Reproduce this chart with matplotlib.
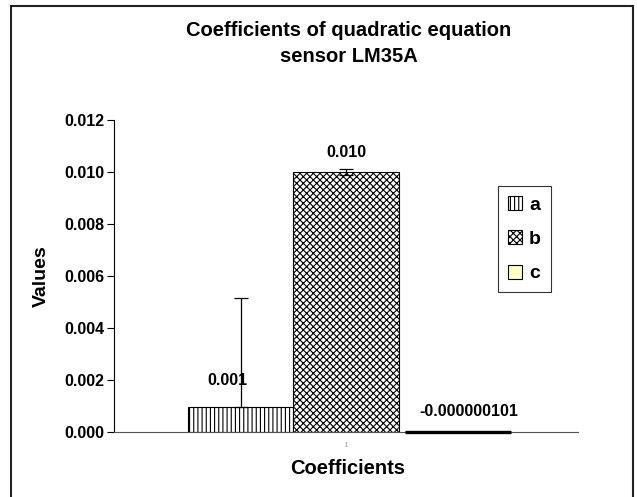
import matplotlib
matplotlib.use("Agg")
import matplotlib.pyplot as plt
from matplotlib.patches import Rectangle

series = ["a", "b", "c"]
values = [0.00095, 0.0100, -0.000000101]
err_plus = [0.0042, 0.00012, 0.0]
err_minus = [0.0, 0.00012, 0.0]
labels = ["0.001", "0.010", "-0.000000101"]
yticks = [0.000, 0.002, 0.004, 0.006, 0.008, 0.010, 0.012]
category = ["1"]
title_lines = ["Coefficients of quadratic equation", "sensor LM35A"]

plt.rcParams['font.family'] = ['Liberation Sans', 'DejaVu Sans']
plt.rcParams['hatch.linewidth'] = 0.8

fig = plt.figure(figsize=(6.37, 4.97), dpi=100)
ax = fig.add_axes([114/637, 1-432/497, (578-114)/637, (432-120)/497])

positions = [-1.0, 0.0, 1.06]
hatches = ['||||', 'xxxxx', '']
faces = ['white', 'white', '#FFFFC0']
for i, s in enumerate(series):
    cont = ax.bar(positions[i], values[i], width=1.0, color=faces[i], edgecolor='black',
                  hatch=hatches[i], linewidth=0.8 if i < 2 else 2.4, label=s,
                  zorder=2 if i < 2 else 3)
    if i == 2:
        for p in cont.patches:
            p.set_clip_on(False)
    if err_plus[i] > 0:
        ax.errorbar(positions[i], values[i], yerr=[[err_minus[i]], [err_plus[i]]],
                    fmt='none', ecolor='black', elinewidth=0.9, capsize=5, capthick=0.9, zorder=3)

label_dx = [-0.12, 0.0, 0.1]
label_dy = [0.00075, 0.00045, 0.00050]
for i in range(3):
    ax.text(positions[i] + label_dx[i], max(values[i], 0) + label_dy[i], labels[i],
            ha='center', va='bottom', fontsize=11.5, fontweight='bold')

ax.set_xlim(-2.2, 2.2)
ax.set_ylim(0, 0.012)
ax.set_yticks(yticks)
ax.set_yticklabels([f"{v:.3f}" for v in yticks], fontsize=11.5, fontweight='bold')
ax.set_xticks([0])
ax.set_xticklabels(category, fontsize=6, color='#AAAAAA')
ax.tick_params(axis='x', length=0, pad=7)
ax.tick_params(axis='y', length=5, width=0.8, direction='out', pad=2)
for sp in ['top', 'right']:
    ax.spines[sp].set_visible(False)
ax.spines['left'].set_linewidth(0.8)
ax.spines['bottom'].set_linewidth(0.8)
ax.spines['bottom'].set_color('#555555')

ax.set_ylabel("Values", fontsize=14, fontweight='bold', labelpad=10)
fig.text(348/637, 1-469/497, "Coefficients", ha='center', va='center', fontsize=14.5, fontweight='bold')

fig.text(349/637, 1-30/497, title_lines[0], ha='center', va='center', fontsize=14.5, fontweight='bold')
fig.text(349/637, 1-56/497, title_lines[1], ha='center', va='center', fontsize=14.5, fontweight='bold')

leg = ax.legend(loc='upper left', bbox_to_anchor=(498/637, 1-186/497), bbox_transform=fig.transFigure,
                prop={'size': 14, 'weight': 'bold'}, frameon=True, fancybox=False,
                edgecolor='black', handlelength=0.75, handleheight=0.75, handletextpad=0.35,
                labelspacing=0.85, borderpad=0.5, borderaxespad=0)
leg.get_frame().set_linewidth(0.8)
for h in leg.legend_handles:
    h.set_linewidth(0.8)

fig.patches.append(Rectangle((11/637, -0.05), (633-11)/637, 1.05 - 6/497, transform=fig.transFigure,
                             fill=False, edgecolor='#222222', linewidth=1.5, clip_on=False))

fig.savefig("out.png", dpi=100)
